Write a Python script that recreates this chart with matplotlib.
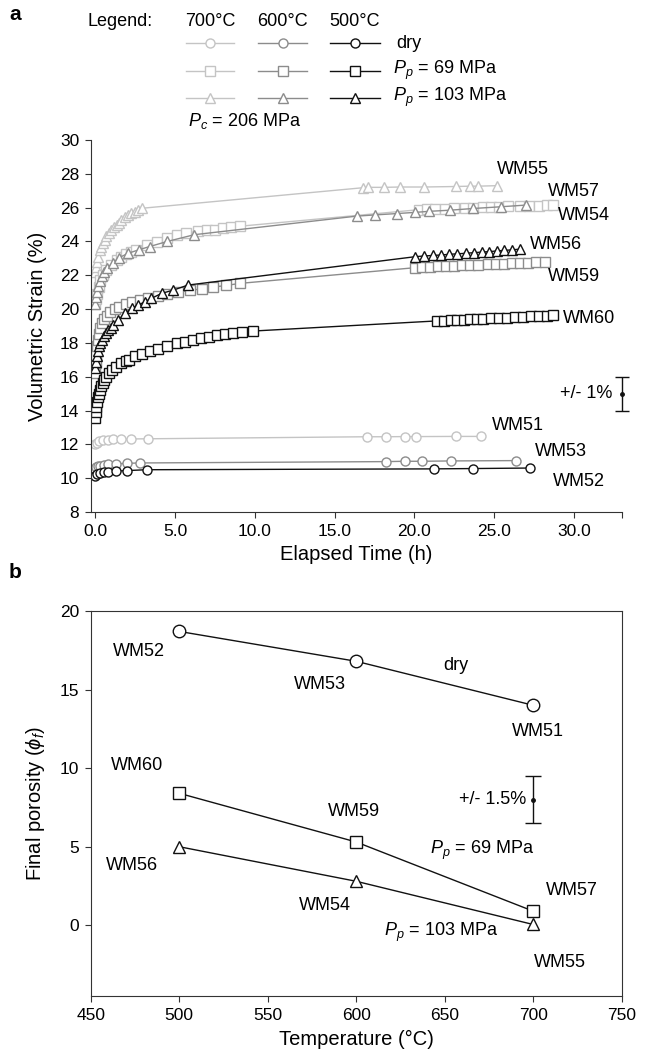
import matplotlib
matplotlib.use("Agg")
import matplotlib.pyplot as plt
import numpy as np

plt.rcParams["font.family"] = ["Liberation Sans", "DejaVu Sans"]
plt.rcParams["mathtext.fontset"] = "custom"
plt.rcParams["mathtext.rm"] = "Liberation Sans"
plt.rcParams["mathtext.it"] = "Liberation Sans:italic"

# ---- panel a: volumetric strain vs elapsed time ----
wm55_t = [0.0, 0.05, 0.1, 0.17, 0.27, 0.37, 0.48, 0.58, 0.69, 0.85, 1.0, 1.15, 1.32, 1.47, 1.63,
          1.85, 2.05, 2.25, 2.47, 2.67, 2.89,
          16.8, 17.1, 18.1, 19.1, 20.6, 22.6, 23.5, 24.0, 25.2]
wm55_v = [22.2, 22.5, 22.8, 23.1, 23.5, 23.7, 23.9, 24.1, 24.3, 24.5, 24.7, 24.85, 24.97, 25.12, 25.27,
          25.42, 25.56, 25.66, 25.76, 25.86, 25.96,
          27.18, 27.2, 27.2, 27.22, 27.22, 27.25, 27.27, 27.27, 27.3]

wm57_t = [0.0, 0.05, 0.1, 0.2, 0.3, 0.48, 0.69, 1.0, 1.32, 1.6, 1.9, 2.2, 2.57, 3.2, 3.83, 4.46,
          5.1, 5.7, 6.45, 6.97, 7.5, 8.0, 8.5, 9.06,
          20.3, 20.8, 21.3, 21.9, 22.5, 23.2, 23.7, 24.3, 24.8, 25.3, 25.9, 26.6, 27.2, 27.8, 28.3, 28.7]
wm57_v = [20.3, 20.6, 20.9, 21.3, 21.7, 22.0, 22.3, 22.6, 22.9, 23.1, 23.25, 23.38, 23.5, 23.8, 23.98, 24.18,
          24.38, 24.48, 24.63, 24.66, 24.7, 24.77, 24.83, 24.9,
          25.88, 25.9, 25.92, 25.94, 25.96, 25.98, 26.0, 26.02, 26.04, 26.06, 26.08, 26.1, 26.11, 26.12, 26.14, 26.15]

wm54_t = [0.0, 0.05, 0.1, 0.18, 0.28, 0.4, 0.55, 0.75, 1.1, 1.5, 2.05, 2.7, 3.4, 4.5, 6.2,
          16.4, 17.55, 18.9, 20.06, 20.9, 22.25, 23.7, 25.4, 26.97]
wm54_v = [20.3, 20.7, 21.0, 21.35, 21.65, 21.95, 22.2, 22.45, 22.75, 23.05, 23.3, 23.5, 23.7, 24.0, 24.4,
          25.5, 25.57, 25.65, 25.72, 25.78, 25.85, 25.95, 26.05, 26.15]

wm56_t = [0.0, 0.05, 0.1, 0.15, 0.22, 0.3, 0.4, 0.52, 0.65, 0.8, 0.95, 1.1, 1.42, 1.84, 2.26, 2.68,
          3.1, 3.5, 4.15, 4.87, 5.8,
          20.06, 20.6, 21.14, 21.67, 22.2, 22.7, 23.24, 23.76, 24.25, 24.7, 25.2, 25.6, 26.1, 26.65]
wm56_v = [16.5, 16.9, 17.2, 17.5, 17.8, 18.0, 18.2, 18.4, 18.6, 18.75, 18.9, 19.05, 19.35, 19.75, 20.04, 20.24,
          20.43, 20.63, 20.93, 21.12, 21.42,
          23.1, 23.14, 23.17, 23.2, 23.24, 23.27, 23.3, 23.34, 23.37, 23.4, 23.44, 23.47, 23.5, 23.55]

wm59_t = [0.0, 0.03, 0.06, 0.1, 0.15, 0.2, 0.3, 0.4, 0.55, 0.7, 0.9, 1.2, 1.5, 1.9, 2.3, 2.8, 3.3,
          3.9, 4.5, 5.2, 5.9, 6.66, 7.4, 8.2, 9.06,
          20.06, 20.5, 21.0, 21.5, 22.0, 22.5, 23.0, 23.5, 24.0, 24.6, 25.1, 25.6, 26.1, 26.6, 27.1,
          27.6, 28.2]
wm59_v = [16.2, 16.8, 17.3, 17.8, 18.2, 18.55, 18.9, 19.15, 19.4, 19.6, 19.8, 20.0, 20.15, 20.3, 20.42,
          20.55, 20.65, 20.8, 20.9, 21.0, 21.1, 21.2, 21.3, 21.4, 21.52,
          22.45, 22.47, 22.5, 22.52, 22.54, 22.56, 22.58, 22.6, 22.62, 22.64, 22.66, 22.68, 22.7, 22.72,
          22.74, 22.76, 22.8]

wm60_t = [0.0, 0.03, 0.06, 0.1, 0.15, 0.2, 0.27, 0.35, 0.45, 0.55, 0.69, 0.85, 1.05, 1.3, 1.6, 1.9,
          2.1, 2.5, 2.9, 3.4, 3.9, 4.5, 5.1, 5.6, 6.1, 6.6, 7.1, 7.6, 8.1, 8.6, 9.2, 9.85,
          21.4, 21.85, 22.3, 22.7, 23.1, 23.5, 23.9, 24.3, 24.8, 25.3, 25.8, 26.3, 26.8, 27.3, 27.8, 28.3, 28.7]
wm60_v = [13.55, 13.9, 14.2, 14.5, 14.8, 15.0, 15.2, 15.45, 15.65, 15.8, 16.0, 16.2, 16.4, 16.6, 16.8,
          16.95, 17.0, 17.2, 17.35, 17.5, 17.65, 17.8, 17.97, 18.07, 18.17, 18.27, 18.37, 18.45, 18.52,
          18.58, 18.64, 18.7,
          19.3, 19.32, 19.34, 19.36, 19.38, 19.4, 19.42, 19.44, 19.46, 19.48, 19.5, 19.53, 19.56, 19.58,
          19.6, 19.62, 19.64]

wm51_t = [0.0, 0.1, 0.25, 0.48, 0.8, 1.1, 1.6, 2.25, 3.3, 17.0, 18.2, 19.4, 20.1, 22.6, 24.2]
wm51_v = [12.0, 12.1, 12.2, 12.25, 12.28, 12.3, 12.3, 12.32, 12.33, 12.45, 12.45, 12.46, 12.46, 12.47, 12.47]

wm53_t = [0.0, 0.05, 0.15, 0.3, 0.55, 0.8, 1.3, 2.0, 2.77, 18.2, 19.4, 20.5, 22.3, 26.4]
wm53_v = [10.55, 10.65, 10.7, 10.75, 10.8, 10.82, 10.85, 10.88, 10.9, 10.98, 11.0, 11.0, 11.02, 11.04]

wm52_t = [0.0, 0.1, 0.3, 0.55, 0.8, 1.3, 2.0, 3.2, 21.2, 23.7, 27.25]
wm52_v = [10.15, 10.25, 10.3, 10.35, 10.38, 10.42, 10.45, 10.5, 10.55, 10.57, 10.6]

# ---- panel b: final porosity vs temperature ----
temps = [500, 600, 700]
phi_dry = [18.7, 16.8, 14.0]
phi_69 = [8.4, 5.3, 0.9]
phi_103 = [5.0, 2.8, 0.05]

light = "#c4c4c4"
mid = "#8c8c8c"
dark = "#111111"
spine_c = "#333333"
fs_txt = 13
fs_tick = 12.5
fs_lab = 14.5

fig = plt.figure(figsize=(6.49, 10.59), dpi=100)

# overlay in pixel coordinates for the hand-made legend and panel letters
ov = fig.add_axes([0, 0, 1, 1])
ov.set_xlim(0, 649)
ov.set_ylim(1059, 0)
ov.axis("off")

ax = fig.add_axes([90.7 / 649, 1 - 512 / 1059, 531 / 649, 372 / 1059])

series_a = [
    (wm55_t, wm55_v, light, "^"), (wm57_t, wm57_v, light, "s"), (wm51_t, wm51_v, light, "o"),
    (wm54_t, wm54_v, mid, "^"), (wm59_t, wm59_v, mid, "s"), (wm53_t, wm53_v, mid, "o"),
    (wm56_t, wm56_v, dark, "^"), (wm60_t, wm60_v, dark, "s"), (wm52_t, wm52_v, dark, "o"),
]
for t, v, c, m in series_a:
    ax.plot(t, v, color=c, lw=1.0, marker=m, ms=6.5, mfc="white", mec=c, mew=1.0)

ax.set_xlim(-0.3, 33.0)
ax.set_ylim(8, 30)
ax.set_xticks([0, 5, 10, 15, 20, 25, 30, 33])
ax.set_xticklabels(["0.0", "5.0", "10.0", "15.0", "20.0", "25.0", "30.0", ""])
ax.set_yticks(range(8, 31, 2))
for s in ["top", "right"]:
    ax.spines[s].set_visible(False)
for s in ["left", "bottom"]:
    ax.spines[s].set_color(spine_c)
ax.tick_params(direction="out", length=4.3, pad=4, color=spine_c, labelsize=fs_tick)
ax.set_xlabel("Elapsed Time (h)", fontsize=fs_lab, labelpad=5)
ax.set_ylabel("Volumetric Strain (%)", fontsize=fs_lab, labelpad=9)

labels_a = [("WM55", 25.15, 28.25), ("WM57", 28.4, 26.94), ("WM54", 29.0, 25.56),
            ("WM56", 27.25, 23.8), ("WM59", 28.4, 21.9), ("WM60", 29.33, 19.45),
            ("WM51", 24.85, 13.14), ("WM53", 27.56, 11.56), ("WM52", 28.7, 9.82)]
for name, x, y in labels_a:
    ax.text(x, y, name, fontsize=fs_txt, ha="left", va="center", clip_on=False)

ax.errorbar([33.0], [15.0], yerr=[1.0], fmt="o", ms=2.5, color=dark, ecolor=dark,
            elinewidth=1.0, capsize=5, capthick=1.0, clip_on=False)
ax.text(32.4, 15.0, "+/- 1%", fontsize=fs_txt, ha="right", va="center")

# ---- legend (drawn by hand) ----
ov.text(120, 21, "Legend:", fontsize=fs_txt, ha="center", va="center")
cols = [(185.7, 234, light, "700°C"), (258, 307, mid, "600°C"), (330, 380, dark, "500°C")]
rows = [(43.3, "o"), (70.5, "s"), (97.8, "^")]
for x0, x1, c, head in cols:
    ov.text((x0 + x1) / 2, 21, head, fontsize=fs_txt, ha="center", va="center")
    for y, m in rows:
        ov.plot([x0, x1], [y, y], color=c, lw=1.0)
        ov.plot([(x0 + x1) / 2], [y], marker=m, ms=6.5, mfc="white", mec=c, mew=1.0, color=c)
ov.text(396, 43.3, "dry", fontsize=fs_txt, ha="left", va="center")
ov.text(393, 70.5, "$P_p$ = 69 MPa", fontsize=fs_txt, ha="left", va="center")
ov.text(393, 97.8, "$P_p$ = 103 MPa", fontsize=fs_txt, ha="left", va="center")
ov.text(245, 121, "$P_c$ = 206 MPa", fontsize=fs_txt, ha="center", va="center")
ov.text(15, 14, "a", fontsize=15, fontweight="bold", ha="center", va="center")
ov.text(15, 572, "b", fontsize=15, fontweight="bold", ha="center", va="center")

# ---- panel b ----
bx = fig.add_axes([90.7 / 649, 1 - 996 / 1059, 531 / 649, 385 / 1059])
bx.plot(temps, phi_dry, color=dark, lw=1.0, marker="o", ms=9, mfc="white", mec=dark, mew=1.0)
bx.plot(temps, phi_69, color=dark, lw=1.0, marker="s", ms=8.5, mfc="white", mec=dark, mew=1.0)
bx.plot(temps, phi_103, color=dark, lw=1.0, marker="^", ms=9, mfc="white", mec=dark, mew=1.0)
bx.set_xlim(450, 750)
bx.set_ylim(-4.5, 20)
bx.set_xticks(range(450, 751, 50))
bx.set_yticks([0, 5, 10, 15, 20])
for s in bx.spines.values():
    s.set_color(spine_c)
bx.tick_params(direction="out", length=4.3, pad=4, color=spine_c, labelsize=fs_tick)
bx.set_xlabel("Temperature (°C)", fontsize=fs_lab, labelpad=5)
bx.set_ylabel(r"Final porosity ($\phi_f$)", fontsize=fs_lab, labelpad=9)

labels_b = [("WM52", 477.0, 17.44), ("WM53", 579.3, 15.3), ("dry", 656.4, 16.5),
            ("WM51", 702.4, 12.33), ("WM60", 476.0, 10.2), ("WM59", 598.5, 7.23),
            ("WM56", 473.3, 3.83), ("WM54", 582.4, 1.28), ("WM57", 721.9, 2.23),
            ("WM55", 715.0, -2.4)]
for name, x, y in labels_b:
    bx.text(x, y, name, fontsize=fs_txt, ha="center", va="center")
bx.text(671, 4.79, "$P_p$ = 69 MPa", fontsize=fs_txt, ha="center", va="center")
bx.text(647.8, -0.43, "$P_p$ = 103 MPa", fontsize=fs_txt, ha="center", va="center")

bx.errorbar([700], [8.0], yerr=[1.5], fmt="o", ms=2.5, color=dark, ecolor=dark,
            elinewidth=1.0, capsize=5.5, capthick=1.0)
bx.text(695.9, 8.0, "+/- 1.5%", fontsize=fs_txt, ha="right", va="center")

fig.savefig("out.png", dpi=100)
